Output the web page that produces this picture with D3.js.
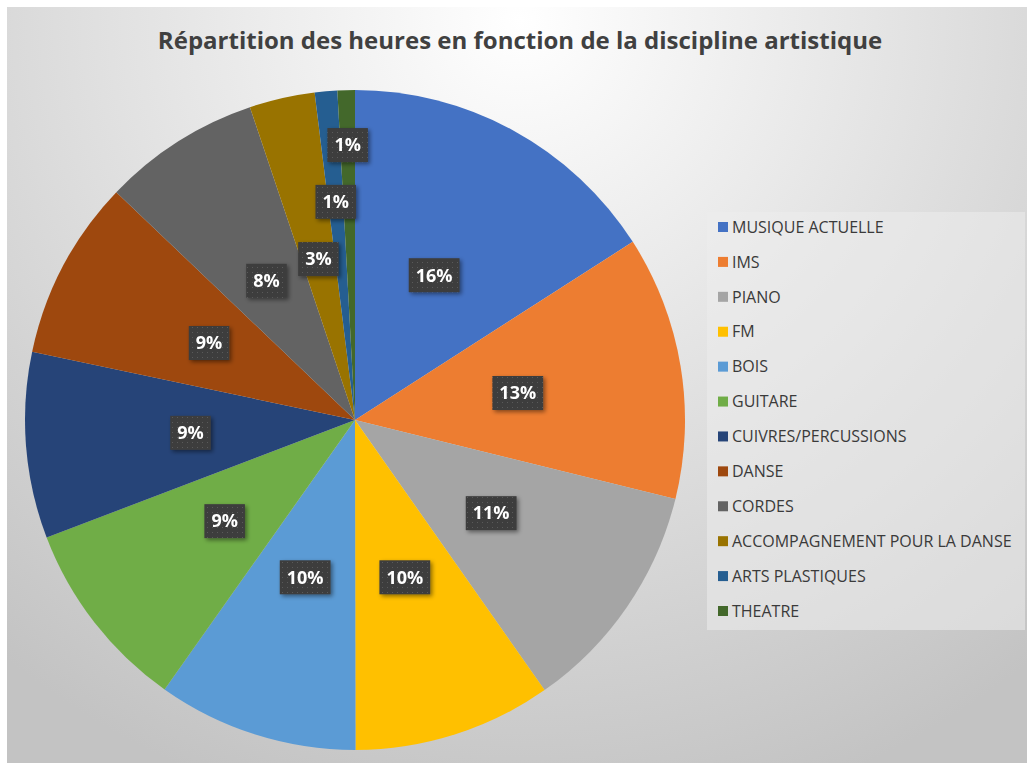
<!DOCTYPE html>
<html><head><meta charset="utf-8">
<script src="https://cdn.jsdelivr.net/npm/d3@7/dist/d3.min.js"></script>
<style>html,body{margin:0;padding:0;background:#fff;}svg{display:block;}</style>
</head><body>
<svg id="chart" width="1027" height="765"></svg>
<script>
const title = "Répartition des heures en fonction de la discipline artistique";
const categories = ["MUSIQUE ACTUELLE","IMS","PIANO","FM","BOIS","GUITARE","CUIVRES/PERCUSSIONS","DANSE","CORDES","ACCOMPAGNEMENT POUR LA DANSE","ARTS PLASTIQUES","THEATRE"];
const values = [15.9, 12.9, 11.4, 9.7, 9.8, 9.4, 9.1, 8.8, 7.7, 3.2, 1.1, 0.85];
const colors = ["#4472C4","#ED7D31","#A5A5A5","#FFC000","#5B9BD5","#70AD47","#264478","#9E480E","#636363","#997300","#255E91","#43682B"];

const svg = d3.select("#chart");
const W = 1027, H = 765;
const defs = svg.append("defs");
const bg = defs.append("radialGradient").attr("id","bg").attr("gradientUnits","userSpaceOnUse")
  .attr("cx",520).attr("cy",20).attr("r",820);
bg.append("stop").attr("offset","0%").attr("stop-color","#ffffff");
bg.append("stop").attr("offset","100%").attr("stop-color","#c3c3c3");

const pat = defs.append("pattern").attr("id","dots").attr("patternUnits","userSpaceOnUse").attr("width",5).attr("height",5);
pat.append("rect").attr("width",5).attr("height",5).attr("fill","#3c3c3c");
pat.append("rect").attr("x",2).attr("y",2).attr("width",1).attr("height",1).attr("fill","#5a5a5a");

const sh = defs.append("filter").attr("id","shadow").attr("x","-30%").attr("y","-30%").attr("width","160%").attr("height","160%");
sh.append("feDropShadow").attr("dx",2).attr("dy",2).attr("stdDeviation",2).attr("flood-color","#000").attr("flood-opacity",0.45);

svg.append("rect").attr("x",7).attr("y",7).attr("width",W-7).attr("height",763-7).attr("fill","url(#bg)");

svg.append("text").attr("x",520).attr("y",49).attr("text-anchor","middle")
  .attr("font-family","Open Sans, sans-serif").attr("font-weight","bold").attr("font-size",24)
  .attr("fill","#404040").text(title);

const cx = 355, cy = 420, R = 330;
const total = d3.sum(values);
const pie = d3.pie().sort(null).value(d => d)(values);
const arc = d3.arc().innerRadius(0).outerRadius(R);
const g = svg.append("g").attr("transform",`translate(${cx},${cy})`);
g.selectAll("path.slice").data(pie).join("path").attr("class","slice")
  .attr("d",arc).attr("fill",(d,i)=>colors[i]);

// labels with simple collision avoidance (push outward)
const fmt = v => Math.round(v/total*100) + "%";
const boxes = [];
const lg = g.append("g");
pie.forEach((d,i) => {
  const t = lg.append("g").attr("filter","url(#shadow)");
  const txt = t.append("text").attr("text-anchor","middle").attr("dy","0.35em")
    .attr("font-family","Open Sans, sans-serif").attr("font-weight","bold").attr("font-size",18)
    .attr("fill","#fff").text(fmt(d.value));
  const tw = txt.node().getComputedTextLength();
  const bw = tw + 14, bh = 34;
  const mid = (d.startAngle + d.endAngle)/2;
  let r = R*0.5, x, y;
  const overlaps = (x,y) => boxes.some(b => Math.abs(b.x - x) < (b.w + bw)/2 + 8 && Math.abs(b.y - y) < (b.h + bh)/2 + 22);
  while (true) {
    x = Math.sin(mid)*r; y = -Math.cos(mid)*r;
    if (!overlaps(x,y) || r > R*0.9) break;
    r += 2;
  }
  boxes.push({x,y,w:bw,h:bh});
  t.insert("rect","text").attr("x",x-bw/2).attr("y",y-bh/2).attr("width",bw).attr("height",bh).attr("fill","url(#dots)");
  txt.attr("x",x).attr("y",y);
});

// legend
svg.append("rect").attr("x",707).attr("y",212).attr("width",318).attr("height",418).attr("fill","#ececec").attr("opacity",0.55);
const leg = svg.append("g");
const ly = d3.scaleLinear().domain([0, categories.length-1]).range([227, 611]);
categories.forEach((c,i) => {
  leg.append("rect").attr("x",718).attr("y",ly(i)-5).attr("width",10).attr("height",10).attr("fill",colors[i]);
  leg.append("text").attr("x",732).attr("y",ly(i)).attr("dy","0.36em")
    .attr("font-family","Open Sans, sans-serif").attr("font-size",16).attr("fill","#3a3a3a").text(c);
});
</script>
</body></html>
